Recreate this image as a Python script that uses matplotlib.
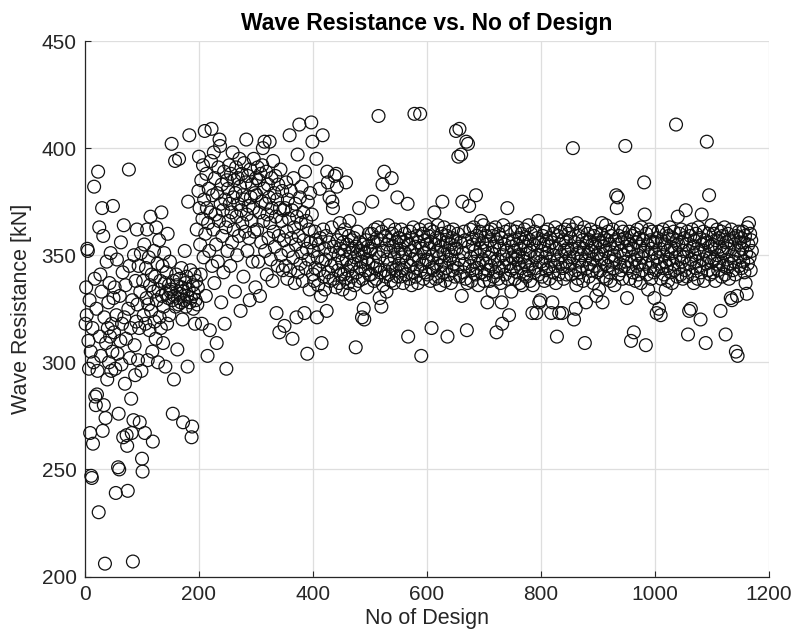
import numpy as np
import matplotlib
matplotlib.use("Agg")
import matplotlib.pyplot as plt

plt.rcParams['font.family'] = ['Liberation Sans', 'DejaVu Sans']

# Wave resistance [kN] of each evaluated design, in design order (50 per block)
wr_0001_0050 = [318, 335, 322, 353, 352, 310, 297, 329, 267, 305,
                247, 246, 316, 262, 300, 382, 339, 284, 280, 325,
                285, 296, 389, 230, 363, 312, 341, 303, 333, 372,
                268, 359, 280, 321, 206, 274, 309, 347, 292, 316,
                328, 300, 337, 312, 351, 296, 318, 305, 373, 330]
wr_0051_0100 = [314, 335, 297, 239, 322, 348, 304, 251, 276, 250,
                331, 310, 356, 299, 318, 342, 265, 364, 321, 290,
                336, 311, 266, 261, 240, 325, 390, 345, 302, 316,
                283, 267, 329, 207, 273, 350, 308, 294, 338, 319,
                362, 327, 301, 345, 316, 272, 333, 351, 296, 255]
wr_0101_0150 = [249, 338, 322, 355, 267, 318, 344, 330, 362, 301,
                327, 349, 315, 336, 368, 324, 341, 305, 263, 333,
                352, 319, 340, 311, 363, 329, 346, 300, 334, 357,
                321, 338, 316, 370, 331, 345, 309, 326, 351, 337,
                298, 332, 342, 318, 360, 330, 336, 322, 347, 333]
wr_0151_0200 = [334, 402, 329, 276, 338, 292, 331, 394, 326, 341,
                336, 306, 330, 327, 395, 339, 332, 328, 344, 335,
                320, 272, 333, 329, 352, 337, 326, 340, 331, 298,
                375, 334, 406, 328, 343, 330, 265, 270, 336, 325,
                332, 341, 318, 329, 338, 362, 327, 335, 380, 396]
wr_0201_0250 = [372, 355, 341, 385, 318, 367, 392, 349, 376, 408,
                360, 331, 388, 372, 303, 365, 381, 352, 315, 370,
                394, 409, 345, 378, 362, 398, 337, 386, 369, 355,
                309, 379, 347, 391, 366, 404, 401, 374, 328, 383,
                359, 371, 342, 389, 318, 376, 363, 297, 385, 352]
wr_0251_0300 = [381, 366, 392, 374, 345, 388, 370, 356, 398, 377,
                362, 385, 333, 379, 391, 368, 350, 386, 374, 359,
                395, 382, 324, 371, 388, 365, 378, 340, 393, 376,
                361, 384, 404, 369, 352, 387, 373, 358, 329, 390,
                377, 366, 383, 347, 372, 395, 361, 379, 335, 386]
wr_0301_0350 = [378, 362, 391, 347, 385, 370, 331, 388, 356, 375,
                392, 400, 366, 381, 403, 352, 374, 389, 341, 369,
                383, 358, 377, 403, 365, 348, 386, 372, 338, 394,
                361, 379, 354, 387, 368, 323, 376, 345, 383, 359,
                314, 372, 390, 350, 366, 380, 343, 371, 357, 317]
wr_0351_0400 = [372, 345, 384, 361, 339, 376, 352, 367, 406, 343,
                380, 358, 371, 311, 349, 386, 363, 337, 374, 355,
                321, 368, 397, 342, 359, 411, 377, 346, 365, 382,
                351, 338, 370, 357, 323, 389, 344, 366, 353, 304,
                375, 348, 362, 334, 379, 356, 412, 369, 403, 341]
wr_0401_0450 = [352, 338, 361, 344, 357, 395, 321, 349, 336, 355,
                343, 381, 358, 331, 309, 347, 406, 362, 340, 353,
                334, 348, 359, 324, 389, 384, 342, 356, 377, 338,
                351, 345, 363, 375, 372, 339, 354, 387, 346, 335,
                388, 382, 357, 343, 350, 337, 365, 353, 341, 360]
wr_0451_0500 = [347, 334, 356, 341, 352, 362, 339, 384, 348, 355,
                343, 337, 359, 366, 332, 351, 345, 357, 340, 353,
                346, 358, 336, 349, 307, 354, 342, 361, 350, 338,
                372, 356, 344, 352, 347, 321, 339, 355, 325, 320,
                351, 343, 357, 348, 335, 354, 346, 360, 341, 352]
wr_0501_0550 = [353, 341, 360, 375, 347, 356, 338, 362, 344, 351,
                339, 358, 345, 363, 415, 349, 330, 342, 357, 326,
                361, 383, 336, 352, 389, 343, 359, 340, 333, 355,
                348, 364, 341, 357, 346, 352, 338, 386, 360, 344,
                354, 337, 349, 362, 343, 356, 340, 377, 351, 358]
wr_0551_0600 = [346, 358, 340, 353, 362, 343, 349, 337, 356, 344,
                360, 351, 341, 357, 347, 374, 312, 355, 339, 361,
                345, 352, 336, 358, 348, 363, 342, 416, 354, 340,
                350, 359, 344, 337, 356, 348, 362, 416, 343, 303,
                353, 346, 360, 339, 351, 357, 342, 364, 348, 355]
wr_0601_0650 = [341, 359, 347, 353, 362, 338, 356, 316, 344, 350,
                361, 343, 370, 355, 339, 358, 346, 352, 364, 340,
                349, 357, 336, 354, 345, 360, 375, 342, 351, 363,
                347, 338, 356, 344, 359, 312, 352, 341, 361, 348,
                355, 337, 350, 358, 343, 362, 346, 353, 340, 357]
wr_0651_0700 = [408, 353, 344, 360, 396, 348, 409, 340, 356, 397,
                331, 375, 351, 342, 361, 346, 357, 339, 403, 315,
                337, 402, 354, 373, 345, 362, 349, 338, 358, 343,
                355, 363, 347, 352, 341, 378, 359, 344, 350, 336,
                357, 346, 361, 353, 366, 342, 356, 348, 364, 338]
wr_0701_0750 = [352, 341, 359, 346, 355, 328, 343, 361, 349, 338,
                357, 345, 362, 351, 333, 359, 340, 354, 347, 363,
                342, 314, 356, 348, 339, 360, 344, 353, 337, 358,
                328, 318, 350, 364, 345, 355, 341, 361, 348, 352,
                372, 339, 357, 322, 346, 362, 343, 333, 354, 349]
wr_0751_0800 = [357, 344, 352, 339, 361, 348, 355, 342, 363, 350,
                346, 358, 337, 353, 344, 360, 336, 349, 356, 341,
                362, 347, 354, 340, 358, 345, 351, 364, 343, 357,
                338, 352, 360, 346, 323, 336, 355, 342, 361, 349,
                344, 323, 358, 350, 366, 341, 328, 356, 329, 347]
wr_0801_0850 = [352, 340, 359, 346, 355, 338, 361, 349, 343, 357,
                351, 362, 344, 354, 339, 358, 347, 323, 356, 328,
                342, 360, 350, 345, 363, 337, 353, 312, 348, 359,
                341, 323, 355, 346, 361, 350, 323, 344, 357, 339,
                352, 362, 347, 356, 341, 353, 345, 360, 364, 349]
wr_0851_0900 = [346, 358, 341, 353, 362, 400, 349, 320, 356, 343,
                325, 336, 365, 351, 339, 359, 347, 354, 342, 361,
                350, 345, 357, 338, 353, 363, 309, 348, 328, 356,
                344, 360, 351, 340, 357, 346, 362, 352, 343, 355,
                348, 337, 359, 345, 354, 361, 331, 350, 342, 357]
wr_0901_0950 = [351, 334, 356, 343, 360, 348, 365, 328, 354, 340,
                358, 346, 352, 364, 339, 357, 345, 361, 349, 342,
                355, 338, 359, 347, 353, 362, 344, 350, 336, 357,
                348, 378, 372, 355, 377, 341, 359, 346, 352, 363,
                343, 356, 339, 361, 350, 345, 358, 401, 347, 354]
wr_0951_1000 = [330, 357, 344, 352, 361, 339, 355, 310, 347, 359,
                342, 353, 314, 360, 348, 338, 356, 345, 362, 350,
                341, 358, 346, 354, 337, 363, 349, 343, 357, 352,
                384, 369, 346, 308, 360, 341, 355, 334, 350, 362,
                344, 357, 339, 353, 361, 347, 356, 342, 330, 351]
wr_1001_1050 = [356, 343, 323, 358, 349, 361, 325, 346, 353, 322,
                339, 357, 344, 362, 350, 341, 355, 347, 334, 360,
                345, 352, 338, 359, 348, 363, 342, 354, 351, 337,
                358, 346, 361, 343, 353, 349, 411, 357, 340, 368,
                355, 344, 360, 350, 341, 362, 347, 356, 339, 352]
wr_1051_1100 = [349, 358, 343, 371, 355, 340, 361, 313, 352, 324,
                346, 359, 325, 348, 362, 341, 354, 337, 357, 350,
                344, 360, 347, 353, 339, 363, 351, 345, 358, 320,
                342, 369, 355, 348, 361, 338, 352, 357, 309, 346,
                403, 356, 343, 360, 378, 349, 341, 354, 364, 347]
wr_1101_1150 = [355, 342, 360, 348, 353, 338, 357, 346, 362, 350,
                343, 358, 347, 354, 324, 361, 340, 352, 359, 345,
                351, 363, 341, 313, 356, 348, 344, 360, 353, 339,
                357, 346, 330, 362, 329, 350, 343, 358, 347, 355,
                341, 305, 359, 331, 303, 352, 361, 345, 356, 349]
wr_1151_1170 = [358, 344, 353, 361, 347, 356, 342, 359, 337, 351,
                332, 363, 346, 355, 365, 349, 360, 343, 357, 352]

wave_resistance = np.array(
    wr_0001_0050 + wr_0051_0100 + wr_0101_0150 + wr_0151_0200 +
    wr_0201_0250 + wr_0251_0300 + wr_0301_0350 + wr_0351_0400 +
    wr_0401_0450 + wr_0451_0500 + wr_0501_0550 + wr_0551_0600 +
    wr_0601_0650 + wr_0651_0700 + wr_0701_0750 + wr_0751_0800 +
    wr_0801_0850 + wr_0851_0900 + wr_0901_0950 + wr_0951_1000 +
    wr_1001_1050 + wr_1051_1100 + wr_1101_1150 + wr_1151_1170, dtype=float)
design_no = np.arange(1, len(wave_resistance) + 1)

x_ticks = [0, 200, 400, 600, 800, 1000, 1200]
y_ticks = [200, 250, 300, 350, 400, 450]

fig = plt.figure(figsize=(7.96, 6.44), dpi=100)
ax = fig.add_axes([0.1068, 0.1048, 0.8592, 0.8315])

ax.scatter(design_no, wave_resistance, s=85, facecolors='none',
           edgecolors='#111111', linewidths=0.9, clip_on=False, zorder=3)

ax.set_xlim(0, 1200)
ax.set_ylim(200, 450)
ax.set_xticks(x_ticks)
ax.set_yticks(y_ticks)

ax.set_axisbelow(True)
ax.grid(True, color='#dedede', linewidth=0.9)

for side in ('top', 'right'):
    ax.spines[side].set_visible(False)
for side in ('left', 'bottom'):
    ax.spines[side].set_color('#262626')
    ax.spines[side].set_linewidth(0.9)

ax.tick_params(direction='in', length=4, width=0.8, colors='#262626',
               labelsize=15, pad=6)
for lbl in ax.get_xticklabels() + ax.get_yticklabels():
    lbl.set_color('#262626')

ax.set_xlabel('No of Design', fontsize=15.5, color='#262626', labelpad=3)
ax.set_ylabel('Wave Resistance [kN]', fontsize=15.5, color='#262626', labelpad=7)
ax.set_title('Wave Resistance vs. No of Design', fontsize=16.5, fontweight='bold',
             color='black', pad=8)

fig.savefig('out.png', dpi=100)
